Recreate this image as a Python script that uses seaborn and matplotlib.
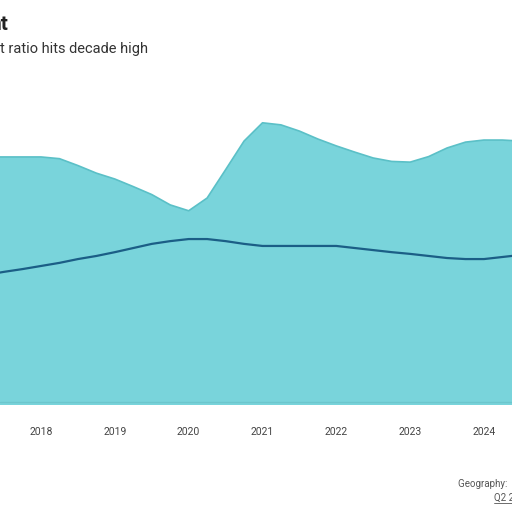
import numpy as np
import pandas as pd
import matplotlib
matplotlib.use("Agg")
import matplotlib.pyplot as plt
import seaborn as sns


# quarterly readings (arbitrary 0-100 scale)
quarters = [
    2017.25, 2017.5, 2017.75,
    2018.0, 2018.25, 2018.5, 2018.75,
    2019.0, 2019.25, 2019.5, 2019.75,
    2020.0, 2020.25, 2020.5, 2020.75,
    2021.0, 2021.25, 2021.5, 2021.75,
    2022.0, 2022.25, 2022.5, 2022.75,
    2023.0, 2023.25, 2023.5, 2023.75,
    2024.0, 2024.25, 2024.5,
]
upper = [
    71.9, 71.9, 71.9,
    71.9, 71.4, 69.4, 67.2,
    65.5, 63.3, 61.0, 58.0,
    56.3, 60.0, 68.2, 76.5,
    81.8, 81.2, 79.4, 77.1,
    75.1, 73.3, 71.6, 70.6,
    70.4, 72.0, 74.5, 76.2,
    76.8, 76.8, 76.5,
]
lower = [
    37.7, 38.6, 39.4,
    40.3, 41.2, 42.3, 43.2,
    44.3, 45.5, 46.7, 47.5,
    48.1, 48.1, 47.5, 46.7,
    46.1, 46.1, 46.1, 46.1,
    46.1, 45.5, 44.9, 44.3,
    43.8, 43.2, 42.6, 42.3,
    42.3, 42.9, 43.5,
]
year_ticks = [2018, 2019, 2020, 2021, 2022, 2023, 2024]

df = pd.DataFrame({"quarter": quarters, "upper": upper, "lower": lower})

sns.set_theme(style="white")
plt.rcParams["font.family"] = ["Roboto", "DejaVu Sans"]

fig = plt.figure(figsize=(5.12, 5.12), dpi=100)
# axes spans full width (the chart is cropped at both sides)
ax = fig.add_axes([0, 1 - 405 / 512, 1, 345 / 512])

ax.fill_between(df["quarter"], 0, df["upper"], color="#79d4db", lw=0)
sns.lineplot(data=df, x="quarter", y="upper", ax=ax, color="#5bc0c7", lw=1.2)
sns.lineplot(data=df, x="quarter", y="lower", ax=ax, color="#1b5e86", lw=1.6)
ax.axhline(1.0, color="#6cc6cd", lw=1)

ax.set_xlim(2017.444, 2024.38)
ax.set_ylim(0, 100)
ax.set_xticks(year_ticks)
ax.set_xticklabels([str(y) for y in year_ticks], fontsize=7.5, color="#444444",
                   fontstretch="condensed")
ax.tick_params(axis="x", length=0, pad=16)
ax.set_yticks([])
ax.set_xlabel("")
ax.set_ylabel("")
for s in ax.spines.values():
    s.set_visible(False)

# title / subtitle, cut off on the left like the source
fig.text(-10 / 512, 1 - 30 / 512, "nt", fontsize=15, fontweight="bold",
         color="#222222", ha="left", va="baseline")
fig.text(148 / 512, 1 - 53 / 512, "t ratio hits decade high", fontsize=10.5,
         color="#333333", ha="right", va="baseline")

# source note, cut off on the right
fig.text(458 / 512, 1 - 487 / 512, "Geography: ", fontsize=7, color="#555555",
         ha="left", va="baseline", fontstretch="condensed")
fig.text(494 / 512, 1 - 501 / 512, "Q2 2024", fontsize=7, color="#555555",
         ha="left", va="baseline", fontstretch="condensed")
fig.add_artist(plt.Line2D([494 / 512, 1], [1 - 503 / 512, 1 - 503 / 512],
                          color="#555555", lw=0.6))

plt.savefig("out.png", dpi=100)
